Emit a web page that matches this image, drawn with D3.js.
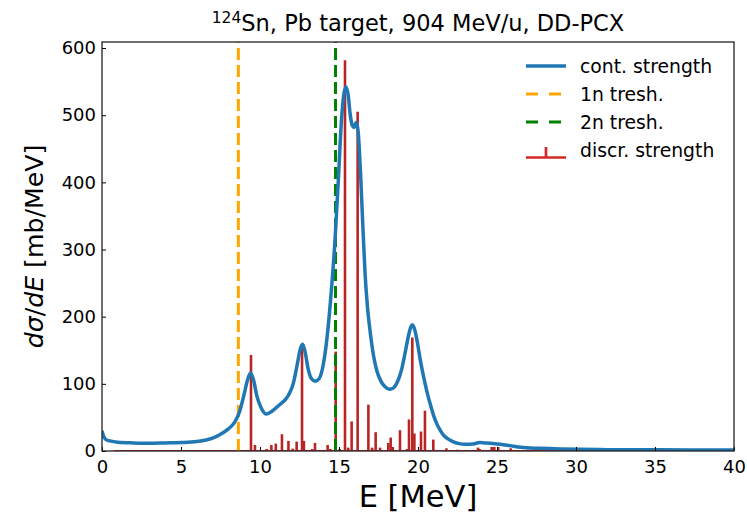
<!DOCTYPE html>
<html><head><meta charset="utf-8">
<script src="https://cdn.jsdelivr.net/npm/d3@7"></script>
<style>
html,body{margin:0;padding:0;background:#fff;}
text{font-family:"DejaVu Sans",sans-serif;fill:#000;}
</style></head>
<body><svg id="c" width="747" height="513"></svg>
<script>
// Continuous strength curve (E in MeV, dσ/dE in mb/MeV)
const contE = [0.0,0.1,0.25,0.5,1.0,2.0,3.0,4.0,5.0,6.0,6.5,7.0,7.5,8.0,8.4,8.7,9.0,9.2,9.4,9.6,9.8,10.1,10.4,10.8,11.2,11.8,12.1,12.35,12.55,12.7,12.85,13.05,13.25,13.5,13.75,14.0,14.2,14.45,14.75,14.96,15.17,15.3,15.44,15.58,15.7,15.85,15.95,16.08,16.2,16.35,16.5,16.65,16.8,16.96,17.2,17.4,17.65,17.9,18.2,18.45,18.7,18.97,19.2,19.4,19.55,19.65,19.8,19.95,20.15,20.35,20.55,20.76,21.0,21.2,21.4,21.6,21.9,22.2,22.6,23.0,23.5,23.9,24.2,24.56,25.2,25.8,26.5,27.7,29.0,30.25,32.0,35.0,40.0];
const contS = [30,22,17,15,13,12,11.5,12,12.5,14,16,19,25,33,43,58,85,105,116,105,82,63,55,60,68,83,100,128,152,159,148,122,108,104,108,128,160,220,315,405,497,530,542,530,503,484,482,489,478,420,340,264,215,180,140,119,104,96,92,94,103,122,148,172,185,188,180,163,135,111,90,71,52,40,31,24,18,14,11,10,10.5,12.5,12,11.5,10,8,5.5,4,3,2.5,2,1.7,1.5];

// Discrete strength (stems)
const discE = [0.78,9.43,9.68,10.42,10.72,11.0,11.39,11.8,12.07,12.32,12.66,12.78,13.3,13.48,14.28,14.45,14.79,15.05,15.38,15.58,15.8,16.18,16.86,17.1,17.32,17.6,18.12,18.27,18.4,18.86,19.3,19.43,19.64,19.77,20.19,20.44,20.97,21.8,22.5,23.8,23.9,24.66,24.83,25.08,25.87,27.0,28.5,30.0,32.0,34.0,36.0,38.0,40.0];
const discS = [0.5,143,9,3,9,11,25,15,3.5,14,155,15,3,12,9,3,148,3,582,5,44,505,69,5,28,5,12,20,6,31,3,47,169,26,29,60,17,4,2,5,3,6,6,6,4,2,1.5,1.5,1,1,1,1,1];

const thresh1n = 8.63, thresh2n = 14.78;
const xTicks = [0,5,10,15,20,25,30,35,40];
const yTicks = [0,100,200,300,400,500,600];
const legendLabels = ["cont. strength","1n tresh.","2n tresh.","discr. strength"];

const svg = d3.select("#c");
const L=102, R=734, T=42, B=451;
const x = d3.scaleLinear().domain([0,40]).range([L,R]);
const y = d3.scaleLinear().domain([0,609]).range([B,T]);

const plot = svg.append("g");
svg.append("clipPath").attr("id","clip").append("rect").attr("x",L).attr("y",T).attr("width",R-L).attr("height",B-T);
const g = plot.append("g").attr("clip-path","url(#clip)");

// stems
g.selectAll("line.stem").data(discE).enter().append("line")
 .attr("x1",d=>x(d)).attr("x2",d=>x(d))
 .attr("y1",y(0)).attr("y2",(d,i)=>y(discS[i]))
 .attr("stroke","#b82525").attr("stroke-width",2.6);
// baseline
g.append("line").attr("x1",x(d3.min(discE))).attr("x2",x(d3.max(discE)))
 .attr("y1",y(0)).attr("y2",y(0)).attr("stroke","#d62728").attr("stroke-width",2);

// thresholds
g.append("line").attr("x1",x(thresh1n)).attr("x2",x(thresh1n)).attr("y1",B).attr("y2",T)
 .attr("stroke","orange").attr("stroke-width",3).attr("stroke-dasharray","12,5");
g.append("line").attr("x1",x(thresh2n)).attr("x2",x(thresh2n)).attr("y1",B).attr("y2",T)
 .attr("stroke","green").attr("stroke-width",3).attr("stroke-dasharray","12,5");

// continuous curve
const line = d3.line().x((d,i)=>x(contE[i])).y((d,i)=>y(contS[i])).curve(d3.curveMonotoneX);
g.append("path").datum(contE).attr("d",line).attr("fill","none")
 .attr("stroke","#1f77b4").attr("stroke-width",3.5).attr("stroke-linejoin","round");

// axes
const xa = svg.append("g").attr("transform",`translate(0,${B})`)
 .call(d3.axisBottom(x).tickValues(xTicks).tickSizeInner(-4).tickSizeOuter(0).tickPadding(9).tickFormat(d3.format("d")));
const ya = svg.append("g").attr("transform",`translate(${L},0)`)
 .call(d3.axisLeft(y).tickValues(yTicks).tickSizeInner(-4).tickSizeOuter(0).tickPadding(6).tickFormat(d3.format("d")));
[xa,ya].forEach(a=>{a.select(".domain").remove();a.selectAll("text").attr("font-size",18).attr("font-family","DejaVu Sans").attr("fill","#000");a.selectAll("line").attr("stroke","#000").attr("stroke-width",1);});
// frame
svg.append("rect").attr("x",L).attr("y",T).attr("width",R-L).attr("height",B-T)
 .attr("fill","none").attr("stroke","#222").attr("stroke-width",1.3);

// title
const t = svg.append("text").attr("x",(L+R)/2).attr("y",31).attr("text-anchor","middle").attr("font-size",22.5);
t.append("tspan").attr("font-size",15.5).attr("dy",-8).text("124");
t.append("tspan").attr("dy",8).text("Sn, Pb target, 904 MeV/u, DD-PCX");

// x label
svg.append("text").attr("x",(L+R)/2).attr("y",507).attr("text-anchor","middle").attr("font-size",30.5).text("E [MeV]");
// y label
const yl = svg.append("text").attr("transform",`translate(43,${(T+B)/2}) rotate(-90)`).attr("text-anchor","middle").attr("font-size",25.2);
yl.append("tspan").attr("font-style","italic").text("dσ");
yl.append("tspan").text("/");
yl.append("tspan").attr("font-style","italic").text("dE");
yl.append("tspan").text(" [mb/MeV]");

// legend
const lg = svg.append("g");
const rows=[66,94,122,150];
lg.append("line").attr("x1",526).attr("x2",566).attr("y1",rows[0]).attr("y2",rows[0]).attr("stroke","#1f77b4").attr("stroke-width",3.5);
lg.append("line").attr("x1",526).attr("x2",566).attr("y1",rows[1]).attr("y2",rows[1]).attr("stroke","orange").attr("stroke-width",3).attr("stroke-dasharray","12,11");
lg.append("line").attr("x1",526).attr("x2",566).attr("y1",rows[2]).attr("y2",rows[2]).attr("stroke","green").attr("stroke-width",3).attr("stroke-dasharray","12,11");
lg.append("line").attr("x1",526).attr("x2",566).attr("y1",157.5).attr("y2",157.5).attr("stroke","#d62728").attr("stroke-width",2.7);
lg.append("line").attr("x1",546).attr("x2",546).attr("y1",157.5).attr("y2",147).attr("stroke","#d62728").attr("stroke-width",2.7);
legendLabels.forEach((s,i)=>{
  lg.append("text").attr("x",580).attr("y",rows[i]).attr("dy","0.35em").attr("font-size",18.8).text(s);
});
</script></body></html>
